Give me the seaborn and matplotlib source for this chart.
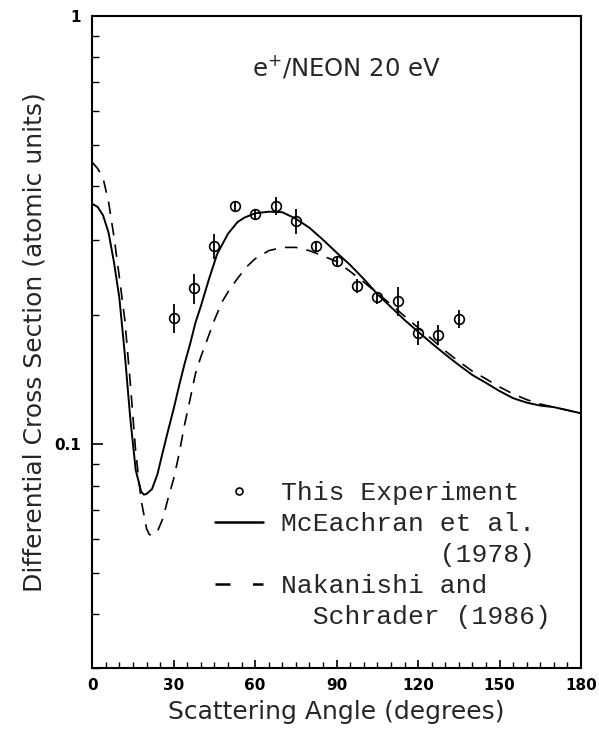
import numpy as np
import pandas as pd
import seaborn as sns
import matplotlib
matplotlib.use("Agg")
import matplotlib.pyplot as plt
from matplotlib.lines import Line2D
from matplotlib.ticker import FixedLocator, MultipleLocator, NullFormatter, LogLocator

# measured points (This Experiment)
exp_angle = [30, 37.5, 45, 52.5, 60, 67.5, 75, 82.5, 90, 97.5, 105, 112.5, 120, 127.5, 135]
exp_dcs = [0.197, 0.231, 0.290, 0.360, 0.344, 0.360, 0.332, 0.290, 0.268, 0.234, 0.220, 0.216, 0.182, 0.180, 0.196]
exp_err = [0.0155, 0.019, 0.019, 0.010, 0.011, 0.018, 0.022, 0.008, 0.0075, 0.009, 0.007, 0.017, 0.012, 0.010, 0.0095]

# McEachran et al. (1978)
mce_angle = [0, 2, 4, 6, 8, 10, 12, 14, 16, 18, 19, 20, 22, 24, 26, 28, 30, 32, 34, 36, 38, 40,
             43, 46, 50, 53.5, 56, 60, 65, 70, 75, 80, 85, 90, 95, 100, 105, 110, 115, 120, 125,
             130, 135, 140, 145, 150, 155, 160, 165, 170, 175, 180]
mce_dcs = [0.364, 0.358, 0.342, 0.312, 0.266, 0.219, 0.162, 0.115, 0.087, 0.0775, 0.0762, 0.0765,
           0.0785, 0.085, 0.096, 0.108, 0.121, 0.137, 0.154, 0.171, 0.192, 0.210, 0.243, 0.278,
           0.310, 0.330, 0.338, 0.346, 0.349, 0.348, 0.336, 0.320, 0.300, 0.280, 0.262, 0.243,
           0.224, 0.209, 0.195, 0.183, 0.172, 0.162, 0.153, 0.145, 0.139, 0.133, 0.128, 0.125,
           0.123, 0.122, 0.120, 0.118]

# Nakanishi and Schrader (1986)
nak_angle = [0, 2, 4, 6, 8, 10, 12, 14, 16, 18, 20, 21, 22, 24, 26, 28, 30, 32, 34, 36, 38, 40,
             42, 45, 48, 51, 54, 57, 60, 65, 70, 75, 80, 85, 90, 95, 100, 105, 110, 115, 120, 125,
             130, 135, 140, 145, 150, 155, 160, 165, 170, 175, 180]
nak_dcs = [0.455, 0.440, 0.418, 0.368, 0.305, 0.245, 0.195, 0.139, 0.096, 0.074, 0.0635, 0.0615,
           0.0612, 0.0625, 0.067, 0.075, 0.083, 0.095, 0.111, 0.127, 0.146, 0.160, 0.173, 0.195,
           0.216, 0.232, 0.246, 0.260, 0.271, 0.283, 0.288, 0.288, 0.283, 0.275, 0.267, 0.253,
           0.239, 0.225, 0.212, 0.199, 0.187, 0.176, 0.165, 0.156, 0.148, 0.142, 0.136, 0.131,
           0.127, 0.124, 0.122, 0.120, 0.118]

legend_labels = ["This Experiment", "McEachran et al.", "          (1978)",
                 "Nakanishi and", "  Schrader (1986)"]

mce = pd.DataFrame({"angle": mce_angle, "dcs": mce_dcs})
nak = pd.DataFrame({"angle": nak_angle, "dcs": nak_dcs})

sns.set_style("ticks")
plt.rcParams["font.family"] = ["DejaVu Sans"]

fig = plt.figure(figsize=(5.99, 7.31), dpi=100)
ax = fig.add_axes([0.154, 0.0862, 0.816, 0.892])

sns.lineplot(data=mce, x="angle", y="dcs", ax=ax, color="black", lw=1.4, sort=False)
sns.lineplot(data=nak, x="angle", y="dcs", ax=ax, color="black", lw=1.2, sort=False,
             linestyle=(0, (7.5, 5.5)))

ax.errorbar(exp_angle, exp_dcs, yerr=exp_err, fmt="o", ms=7, mfc="none", mec="black",
            mew=1.2, ecolor="black", elinewidth=1.3, capsize=0)

ax.set_yscale("log")
ax.set_xlim(0, 180)
ax.set_ylim(0.03, 1)

ax.xaxis.set_major_locator(MultipleLocator(30))
ax.xaxis.set_minor_locator(MultipleLocator(5))
ax.yaxis.set_major_locator(FixedLocator([0.1, 1]))
ax.set_yticklabels(["0.1", "1"])
ax.yaxis.set_minor_locator(LogLocator(base=10, subs=np.arange(2, 10)))
ax.yaxis.set_minor_formatter(NullFormatter())

ax.tick_params(axis="both", which="both", direction="in", colors="black")
ax.tick_params(axis="x", which="major", length=6, width=1.2, pad=7, labelsize=11)
ax.tick_params(axis="x", which="minor", length=4, width=1.0)
ax.tick_params(axis="y", which="major", length=8, width=1.2, pad=8, labelsize=11)
ax.tick_params(axis="y", which="minor", length=5, width=1.0)
for lab in ax.get_xticklabels() + ax.get_yticklabels():
    lab.set_fontweight("bold")

for sp in ax.spines.values():
    sp.set_linewidth(1.5)
    sp.set_color("black")

ax.set_xlabel("Scattering Angle (degrees)", fontsize=18, labelpad=5)
ax.set_ylabel("Differential Cross Section (atomic units)", fontsize=18, labelpad=6)

ax.text(93.5, 0.76, r"e$^{+}$/NEON 20 eV", fontsize=17.5, ha="center", va="center")

handles = [
    Line2D([], [], marker="o", ms=5, mfc="none", mec="black", mew=1.2, ls="none"),
    Line2D([], [], color="black", lw=1.8),
    Line2D([], [], color="none"),
    Line2D([], [], color="black", lw=1.8, linestyle=(0, (6, 9))),
    Line2D([], [], color="none"),
]
ax.legend(handles, legend_labels, loc="upper left", bbox_to_anchor=(0.23, 0.303),
          frameon=False, handlelength=1.8, handletextpad=0.7, labelspacing=0.27,
          borderaxespad=0, prop={"family": "Liberation Mono", "size": 19})

fig.savefig("out.png", dpi=100)
